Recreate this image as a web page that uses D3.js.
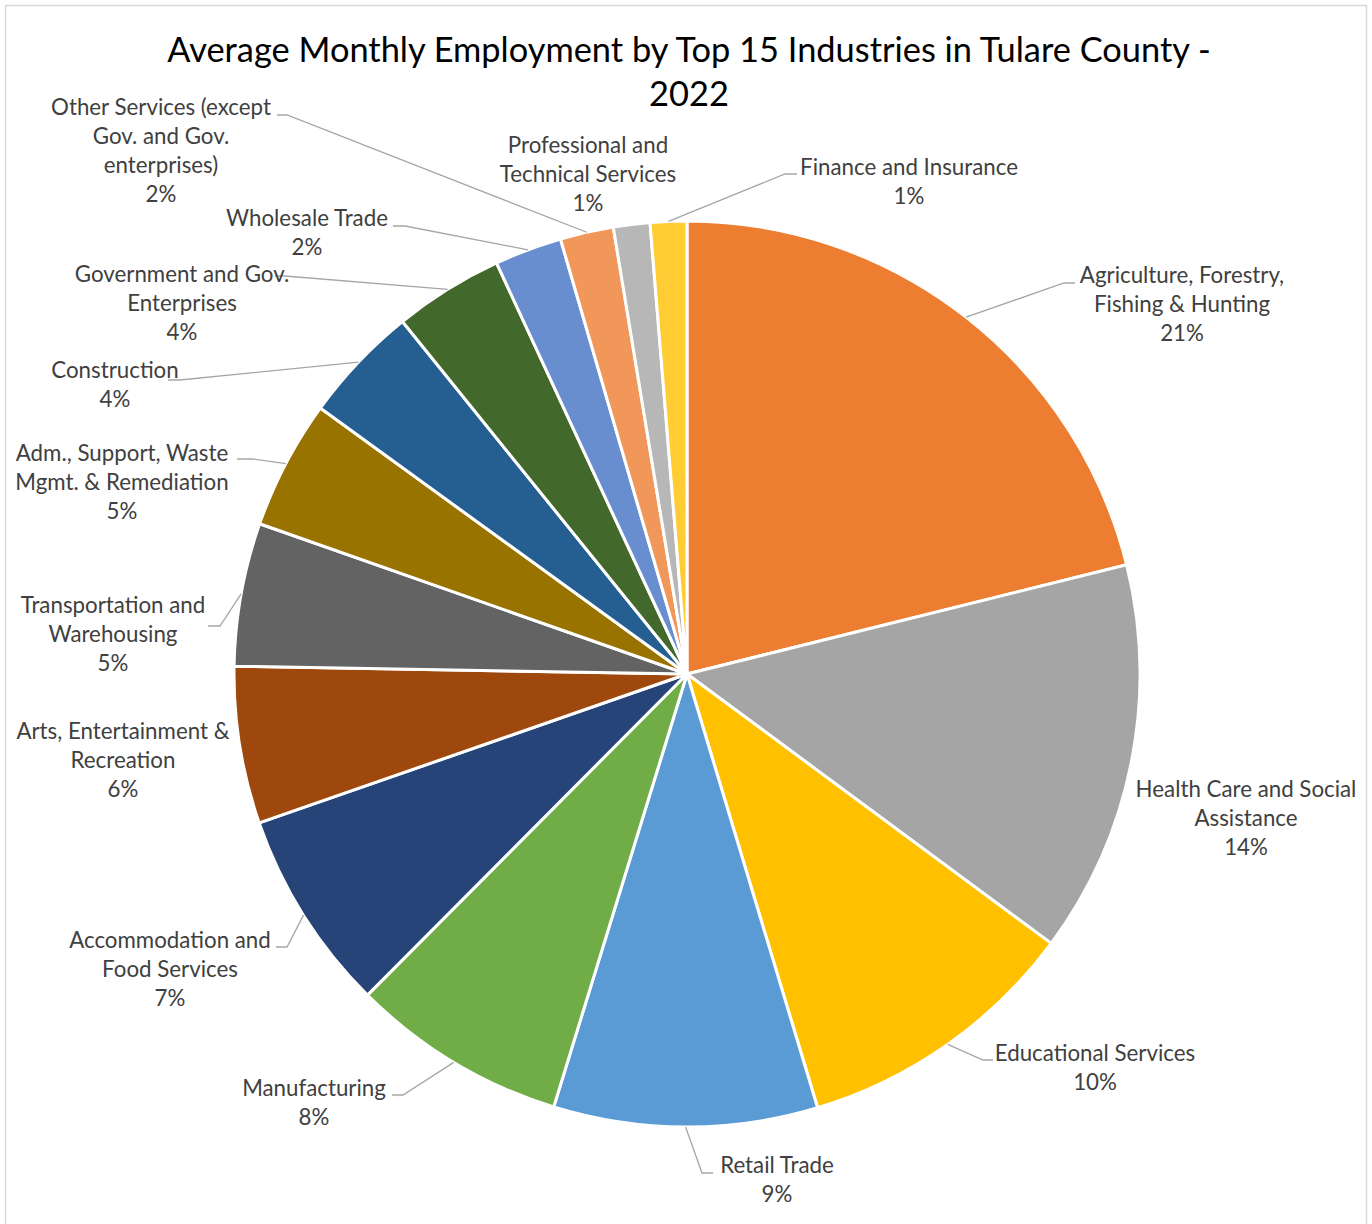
<!DOCTYPE html>
<html>
<head>
<meta charset="utf-8">
<script src="https://cdn.jsdelivr.net/npm/d3@7"></script>
<style>
  html, body { margin: 0; padding: 0; background: #ffffff; }
  svg { display: block; }
  text { font-family: Lato, "Open Sans", sans-serif; }
</style>
</head>
<body>
<svg id="chart" width="1372" height="1224"></svg>
<script>
// Industries, clockwise from 12 o'clock
const categories = [
  "Agriculture, Forestry, Fishing & Hunting",
  "Health Care and Social Assistance",
  "Educational Services",
  "Retail Trade",
  "Manufacturing",
  "Accommodation and Food Services",
  "Arts, Entertainment & Recreation",
  "Transportation and Warehousing",
  "Adm., Support, Waste Mgmt. & Remediation",
  "Construction",
  "Government and Gov. Enterprises",
  "Wholesale Trade",
  "Other Services (except Gov. and Gov. enterprises)",
  "Professional and Technical Services",
  "Finance and Insurance"
];

// Share of average monthly employment (percent)
const shares = [21.1, 14.0, 10.2, 9.4, 7.7, 7.2, 5.6, 5.1, 4.6, 4.2, 3.9, 2.4, 1.9, 1.3, 1.3];

// Label text broken into lines
const labelLines = [
  ["Agriculture, Forestry,", "Fishing & Hunting"],
  ["Health Care and Social", "Assistance"],
  ["Educational Services"],
  ["Retail Trade"],
  ["Manufacturing"],
  ["Accommodation and", "Food Services"],
  ["Arts, Entertainment &", "Recreation"],
  ["Transportation and", "Warehousing"],
  ["Adm., Support, Waste", "Mgmt. & Remediation"],
  ["Construction"],
  ["Government and Gov.", "Enterprises"],
  ["Wholesale Trade"],
  ["Other Services (except", "Gov. and Gov.", "enterprises)"],
  ["Professional and", "Technical Services"],
  ["Finance and Insurance"]
];

const colors = [
  "#ED7D31", "#A5A5A5", "#FFC000", "#5B9BD5", "#70AD47",
  "#264478", "#9E480E", "#636363", "#997300", "#255E91",
  "#43682B", "#698ED0", "#F1975A", "#B7B7B7", "#FFCD33"
];

const titleLines = ["Average Monthly Employment by Top 15 Industries in Tulare County -", "2022"];

// Label placement: text centre x, first line centre y, leader elbow and end (or none)
const labelLayout = [
  { x: 1182, y: 274, leader: [[1064, 283], [1075, 283]] },
  { x: 1246, y: 788, leader: null },
  { x: 1095, y: 1052, leader: [[983, 1060], [993, 1060]] },
  { x: 777, y: 1164, leader: [[702, 1173], [713, 1173]] },
  { x: 314, y: 1087, leader: [[403, 1095], [392, 1095]] },
  { x: 170, y: 939, leader: [[287, 947], [276, 947]] },
  { x: 123, y: 730, leader: null },
  { x: 113, y: 604, leader: [[220, 626], [208, 626]] },
  { x: 122, y: 452, leader: [[253, 459], [237, 459]] },
  { x: 115, y: 369, leader: [[180, 380], [168, 380]] },
  { x: 182, y: 273, leader: [[285, 276], [275, 276]] },
  { x: 307, y: 217, leader: [[405, 226], [393, 226]] },
  { x: 161, y: 106, leader: [[287, 115], [277, 115]] },
  { x: 588, y: 144, leader: null },
  { x: 909, y: 166, leader: [[785, 174], [797, 174]] }
];

const width = 1372, height = 1224;
const cx = 687, cy = 674, radius = 453;
const lineH = 29.3;

const svg = d3.select("#chart");

// chart area frame
svg.append("rect")
  .attr("x", 5.5).attr("y", 5.5)
  .attr("width", 1361).attr("height", 1260)
  .attr("fill", "#ffffff")
  .attr("stroke", "#d9d9d9")
  .attr("stroke-width", 1.5);

// title
svg.append("g").selectAll("text")
  .data(titleLines)
  .join("text")
  .attr("x", 689)
  .attr("y", (d, i) => 48.5 + i * 44)
  .attr("text-anchor", "middle")
  .attr("dominant-baseline", "central")
  .attr("font-size", 34.4)
  .attr("fill", "#000000")
  .text(d => d);

const total = d3.sum(shares);
const rows = categories.map((c, i) => ({ name: c, value: shares[i], i }));

const pie = d3.pie().value(d => d.value).sort(null);
const arcs = pie(rows);
const arc = d3.arc().innerRadius(0).outerRadius(radius);

const g = svg.append("g").attr("transform", `translate(${cx},${cy})`);

g.selectAll("path")
  .data(arcs)
  .join("path")
  .attr("d", arc)
  .attr("fill", d => colors[d.data.i])
  .attr("stroke", "#ffffff")
  .attr("stroke-width", 3)
  .attr("stroke-linejoin", "round");

// leader lines from slice edge (mid-angle) to the label
const edgePoint = d => {
  const a = (d.startAngle + d.endAngle) / 2;
  return [cx + radius * Math.sin(a), cy - radius * Math.cos(a)];
};

svg.append("g").selectAll("polyline")
  .data(arcs.filter(d => labelLayout[d.data.i].leader))
  .join("polyline")
  .attr("points", d => [edgePoint(d)].concat(labelLayout[d.data.i].leader).map(p => p.join(",")).join(" "))
  .attr("fill", "none")
  .attr("stroke", "#a6a6a6")
  .attr("stroke-width", 1.3);

// data labels: category name and percentage
const fmt = v => Math.round(v / total * 100) + "%";

const labels = svg.append("g").selectAll("text")
  .data(arcs)
  .join("text")
  .attr("text-anchor", "middle")
  .attr("font-size", 22.3)
  .attr("fill", "#404040");

labels.each(function(d) {
  const lay = labelLayout[d.data.i];
  const lines = labelLines[d.data.i].concat([fmt(d.data.value)]);
  d3.select(this).selectAll("tspan")
    .data(lines)
    .join("tspan")
    .attr("x", lay.x)
    .attr("y", (t, k) => lay.y + k * lineH)
    .attr("dominant-baseline", "central")
    .text(t => t);
});
</script>
</body>
</html>
